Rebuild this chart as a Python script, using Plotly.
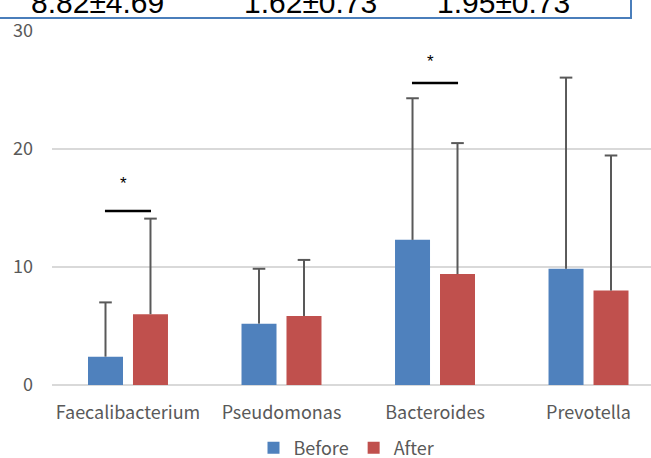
import plotly.graph_objects as go

categories = ["Faecalibacterium", "Pseudomonas", "Bacteroides", "Prevotella"]
before_vals = [2.4, 5.2, 12.3, 9.85]
before_err = [4.6, 4.65, 12.0, 16.2]
after_vals = [6.0, 5.85, 9.4, 8.0]
after_err = [8.1, 4.75, 11.1, 11.45]
y_ticks = [0, 10, 20, 30]
top_stats = ["8.82±4.69", "1.62±0.73", "1.95±0.73"]
sig_categories = [0, 2]
sig_line_y = [14.75, 25.6]
sig_star_y = [17.1, 27.4]

BLUE = "#4f81bd"
RED = "#c0504d"
GRAY = "#595959"
FONT = "Noto Sans CJK KR"

# bar geometry (in category units)
BAR_W = 0.228
GAP = 0.065
offsets = [-(BAR_W + GAP / 2), GAP / 2]
centers = [o + BAR_W / 2 for o in offsets]

x_idx = list(range(len(categories)))

fig = go.Figure()
series = [("Before", before_vals, before_err, BLUE),
          ("After", after_vals, after_err, RED)]
for (name, vals, errs, col), off in zip(series, offsets):
    fig.add_trace(go.Bar(
        name=name, x=x_idx, y=vals, marker_color=col, marker_line_width=0,
        width=BAR_W, offset=off,
        error_y=dict(type="data", array=errs, arrayminus=[0] * len(errs),
                     symmetric=False, color=GRAY, thickness=2, width=0),
    ))
# error-bar caps
for (name, vals, errs, col), c in zip(series, centers):
    fig.add_trace(go.Scatter(
        x=[i + c for i in x_idx], y=[v + e for v, e in zip(vals, errs)],
        mode="markers", showlegend=False, hoverinfo="skip",
        marker=dict(symbol="line-ew", size=9, line=dict(color=GRAY, width=2)),
    ))

# significance markers
for c, ly, sy in zip(sig_categories, sig_line_y, sig_star_y):
    fig.add_shape(type="line", xref="x", yref="y", x0=c - 0.15, x1=c + 0.15,
                  y0=ly, y1=ly, line=dict(color="black", width=2.5))
    fig.add_annotation(x=c - 0.03, y=sy, xref="x", yref="y", text="*",
                       showarrow=False, font=dict(family="Liberation Sans", size=17, color="black"),
                       yanchor="middle")

# partially cropped text box at top
W, H = 651, 458
ml, mr, mt, mb = 52, 0, 31, 73
pw = W - ml - mr
ph = H - mt - mb


def px2x(px):
    return (px - ml) / pw


def py2y(py):
    return (H - mb - py) / ph


fig.add_shape(type="rect", xref="paper", yref="paper",
              x0=px2x(-10), x1=px2x(631), y0=py2y(18), y1=py2y(-10),
              line=dict(color="#4a7ebb", width=2), fillcolor="rgba(0,0,0,0)")
for txt, cx in zip(top_stats, [97.5, 310, 503]):
    fig.add_annotation(x=px2x(cx), y=py2y(2.3), xref="paper", yref="paper",
                       text=txt, showarrow=False, xanchor="center", yanchor="middle",
                       font=dict(family="Liberation Sans", size=30, color="black"))

fig.update_layout(
    width=W, height=H,
    margin=dict(l=ml, r=mr, t=mt, b=mb, pad=0, autoexpand=False),
    paper_bgcolor="white", plot_bgcolor="white",
    barmode="overlay",
    font=dict(family=FONT, size=18, color=GRAY),
    legend=dict(orientation="h", x=px2x(347), xanchor="center",
                y=py2y(448), yanchor="middle",
                font=dict(family=FONT, size=18, color=GRAY)),
    showlegend=True,
)
fig.update_xaxes(range=[-0.495, 3.407], tickvals=x_idx, ticktext=categories,
                 showgrid=False, zeroline=False, showline=False, ticks="",
                 ticklabelstandoff=15, automargin=False)
fig.update_yaxes(range=[0, 30], tickvals=y_ticks, showgrid=True,
                 gridcolor="#d9d9d9", gridwidth=1.5, zeroline=True,
                 zerolinecolor="#d9d9d9", zerolinewidth=1.5, showline=False,
                 ticks="", ticklabelstandoff=18, automargin=False)

fig.write_html("out.html")
